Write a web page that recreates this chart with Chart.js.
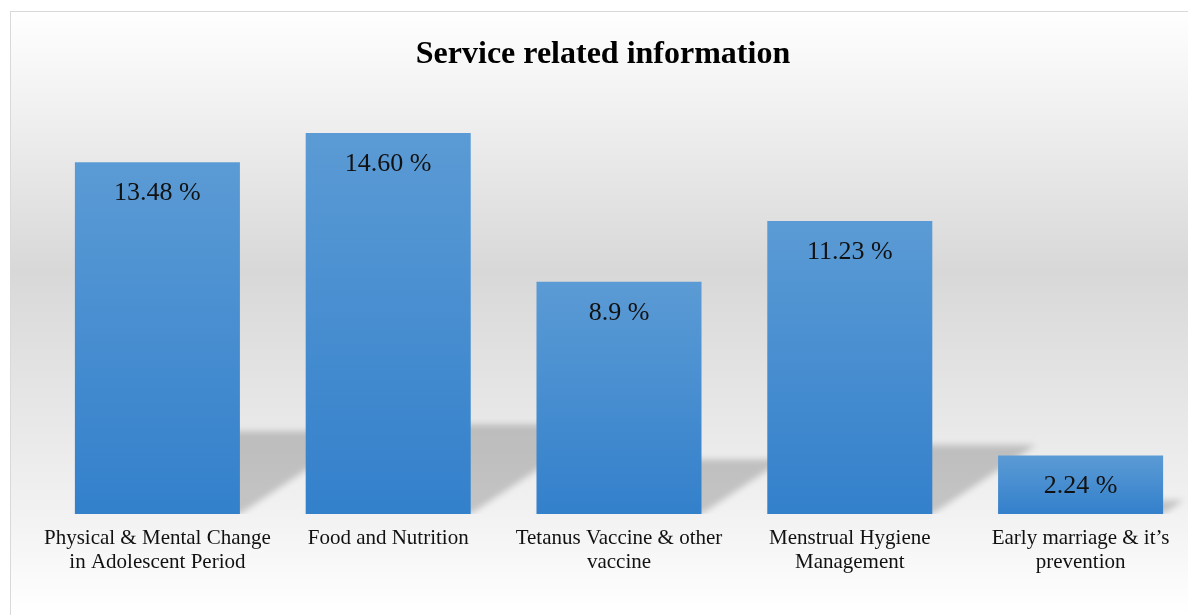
<!DOCTYPE html>
<html>
<head>
<meta charset="utf-8">
<title>Service related information</title>
<script src="https://cdn.jsdelivr.net/npm/chart.js"></script>
<style>
  html, body { margin: 0; padding: 0; background: #fff; overflow: hidden; }
  #wrap { position: relative; width: 1206px; height: 615px; }
</style>
</head>
<body>
<div id="wrap"><canvas id="chart" width="1206" height="615"></canvas></div>
<script>
const categories = [
  ['Physical & Mental Change', 'in Adolescent Period'],
  ['Food and Nutrition'],
  ['Tetanus Vaccine & other', 'vaccine'],
  ['Menstrual Hygiene', 'Management'],
  ['Early marriage & it\u2019s', 'prevention']
];
const percentValues = [13.48, 14.60, 8.9, 11.23, 2.24];
const valueLabels = ['13.48 %', '14.60 %', '8.9 %', '11.23 %', '2.24 %'];
const yRange = [0, 16];

const SERIF = "'Liberation Serif', 'Times New Roman', serif";

// grey band background + thin frame, like the office chart area
const backgroundPlugin = {
  id: 'frameBackground',
  beforeDraw(chart) {
    const ctx = chart.ctx;
    const left = 10, top = 11, right = 1196, bottom = 640;
    const g = ctx.createLinearGradient(0, top, 0, 615);
    g.addColorStop(0, '#ffffff');
    g.addColorStop(0.43, '#d8d8d8');
    g.addColorStop(0.834, '#f2f2f2');
    g.addColorStop(1, '#ffffff');
    ctx.save();
    ctx.fillStyle = g;
    ctx.fillRect(left, top, right - left, bottom - top);
    ctx.strokeStyle = '#d9d9d9';
    ctx.lineWidth = 1;
    ctx.strokeRect(left + 0.5, top + 0.5, right - left, bottom - top);
    ctx.restore();
  }
};

// perspective shadow falling back to the upper right of each bar
const shadowPlugin = {
  id: 'barShadow',
  beforeDatasetsDraw(chart) {
    const ctx = chart.ctx;
    const meta = chart.getDatasetMeta(0);
    meta.data.forEach(bar => {
      const { x, y, base, width } = bar.getProps(['x', 'y', 'base', 'width'], true);
      const x0 = x - width / 2;
      const x1 = x + width / 2;
      const sh = (base - y) * 0.235;
      const dx = sh * 1.5;
      ctx.save();
      ctx.beginPath();
      ctx.rect(0, 0, chart.width, base);
      ctx.clip();
      ctx.filter = 'blur(3px)';
      ctx.fillStyle = 'rgba(0,0,0,0.19)';
      ctx.beginPath();
      ctx.moveTo(x0, base);
      ctx.lineTo(x1, base);
      ctx.lineTo(x1 + dx, base - sh);
      ctx.lineTo(x0 + dx, base - sh);
      ctx.closePath();
      ctx.fill();
      ctx.restore();
    });
  }
};

// value text inside the top of each bar
const valueLabelPlugin = {
  id: 'valueLabels',
  afterDatasetsDraw(chart) {
    const ctx = chart.ctx;
    const meta = chart.getDatasetMeta(0);
    ctx.save();
    ctx.font = '26px ' + SERIF;
    ctx.fillStyle = '#111111';
    ctx.textAlign = 'center';
    ctx.textBaseline = 'middle';
    meta.data.forEach((bar, i) => {
      const { x, y } = bar.getProps(['x', 'y'], true);
      ctx.fillText(valueLabels[i], x, y + 31);
    });
    ctx.restore();
  }
};

new Chart(document.getElementById('chart'), {
  type: 'bar',
  data: {
    labels: categories,
    datasets: [{
      label: 'Service related information',
      data: percentValues,
      backgroundColor: (c) => {
        const chart = c.chart;
        const yScale = chart.scales.y;
        if (!yScale || c.dataIndex === undefined) return '#4a8fd0';
        const top = yScale.getPixelForValue(percentValues[c.dataIndex]);
        const base = yScale.getPixelForValue(0);
        if (!Number.isFinite(top) || !Number.isFinite(base) || top === base) return '#4a8fd0';
        const g = chart.ctx.createLinearGradient(0, top, 0, base);
        g.addColorStop(0, '#5b9bd5');
        g.addColorStop(1, '#3380cb');
        return g;
      },
      borderWidth: 0,
      categoryPercentage: 1,
      barPercentage: 0.715
    }]
  },
  options: {
    responsive: false,
    animation: false,
    devicePixelRatio: 1,
    layout: { padding: { top: 11, left: 10, right: 10, bottom: 29 } },
    plugins: {
      legend: { display: false },
      tooltip: { enabled: false },
      title: {
        display: true,
        text: 'Service related information',
        color: '#000000',
        font: { family: SERIF, size: 32, weight: 'bold' },
        padding: { top: 25, bottom: 22 }
      }
    },
    scales: {
      x: {
        grid: { display: false, drawTicks: false },
        border: { display: false },
        ticks: {
          color: '#111111',
          font: { family: SERIF, size: 21, lineHeight: 1.143 },
          padding: 12,
          maxRotation: 0,
          autoSkip: false
        }
      },
      y: {
        min: yRange[0],
        max: yRange[1],
        grid: { display: false, drawTicks: false },
        border: { display: false },
        ticks: { display: false },
        afterFit(scale) { scale.width = 32; }
      }
    }
  },
  plugins: [backgroundPlugin, shadowPlugin, valueLabelPlugin]
});
</script>
</body>
</html>
